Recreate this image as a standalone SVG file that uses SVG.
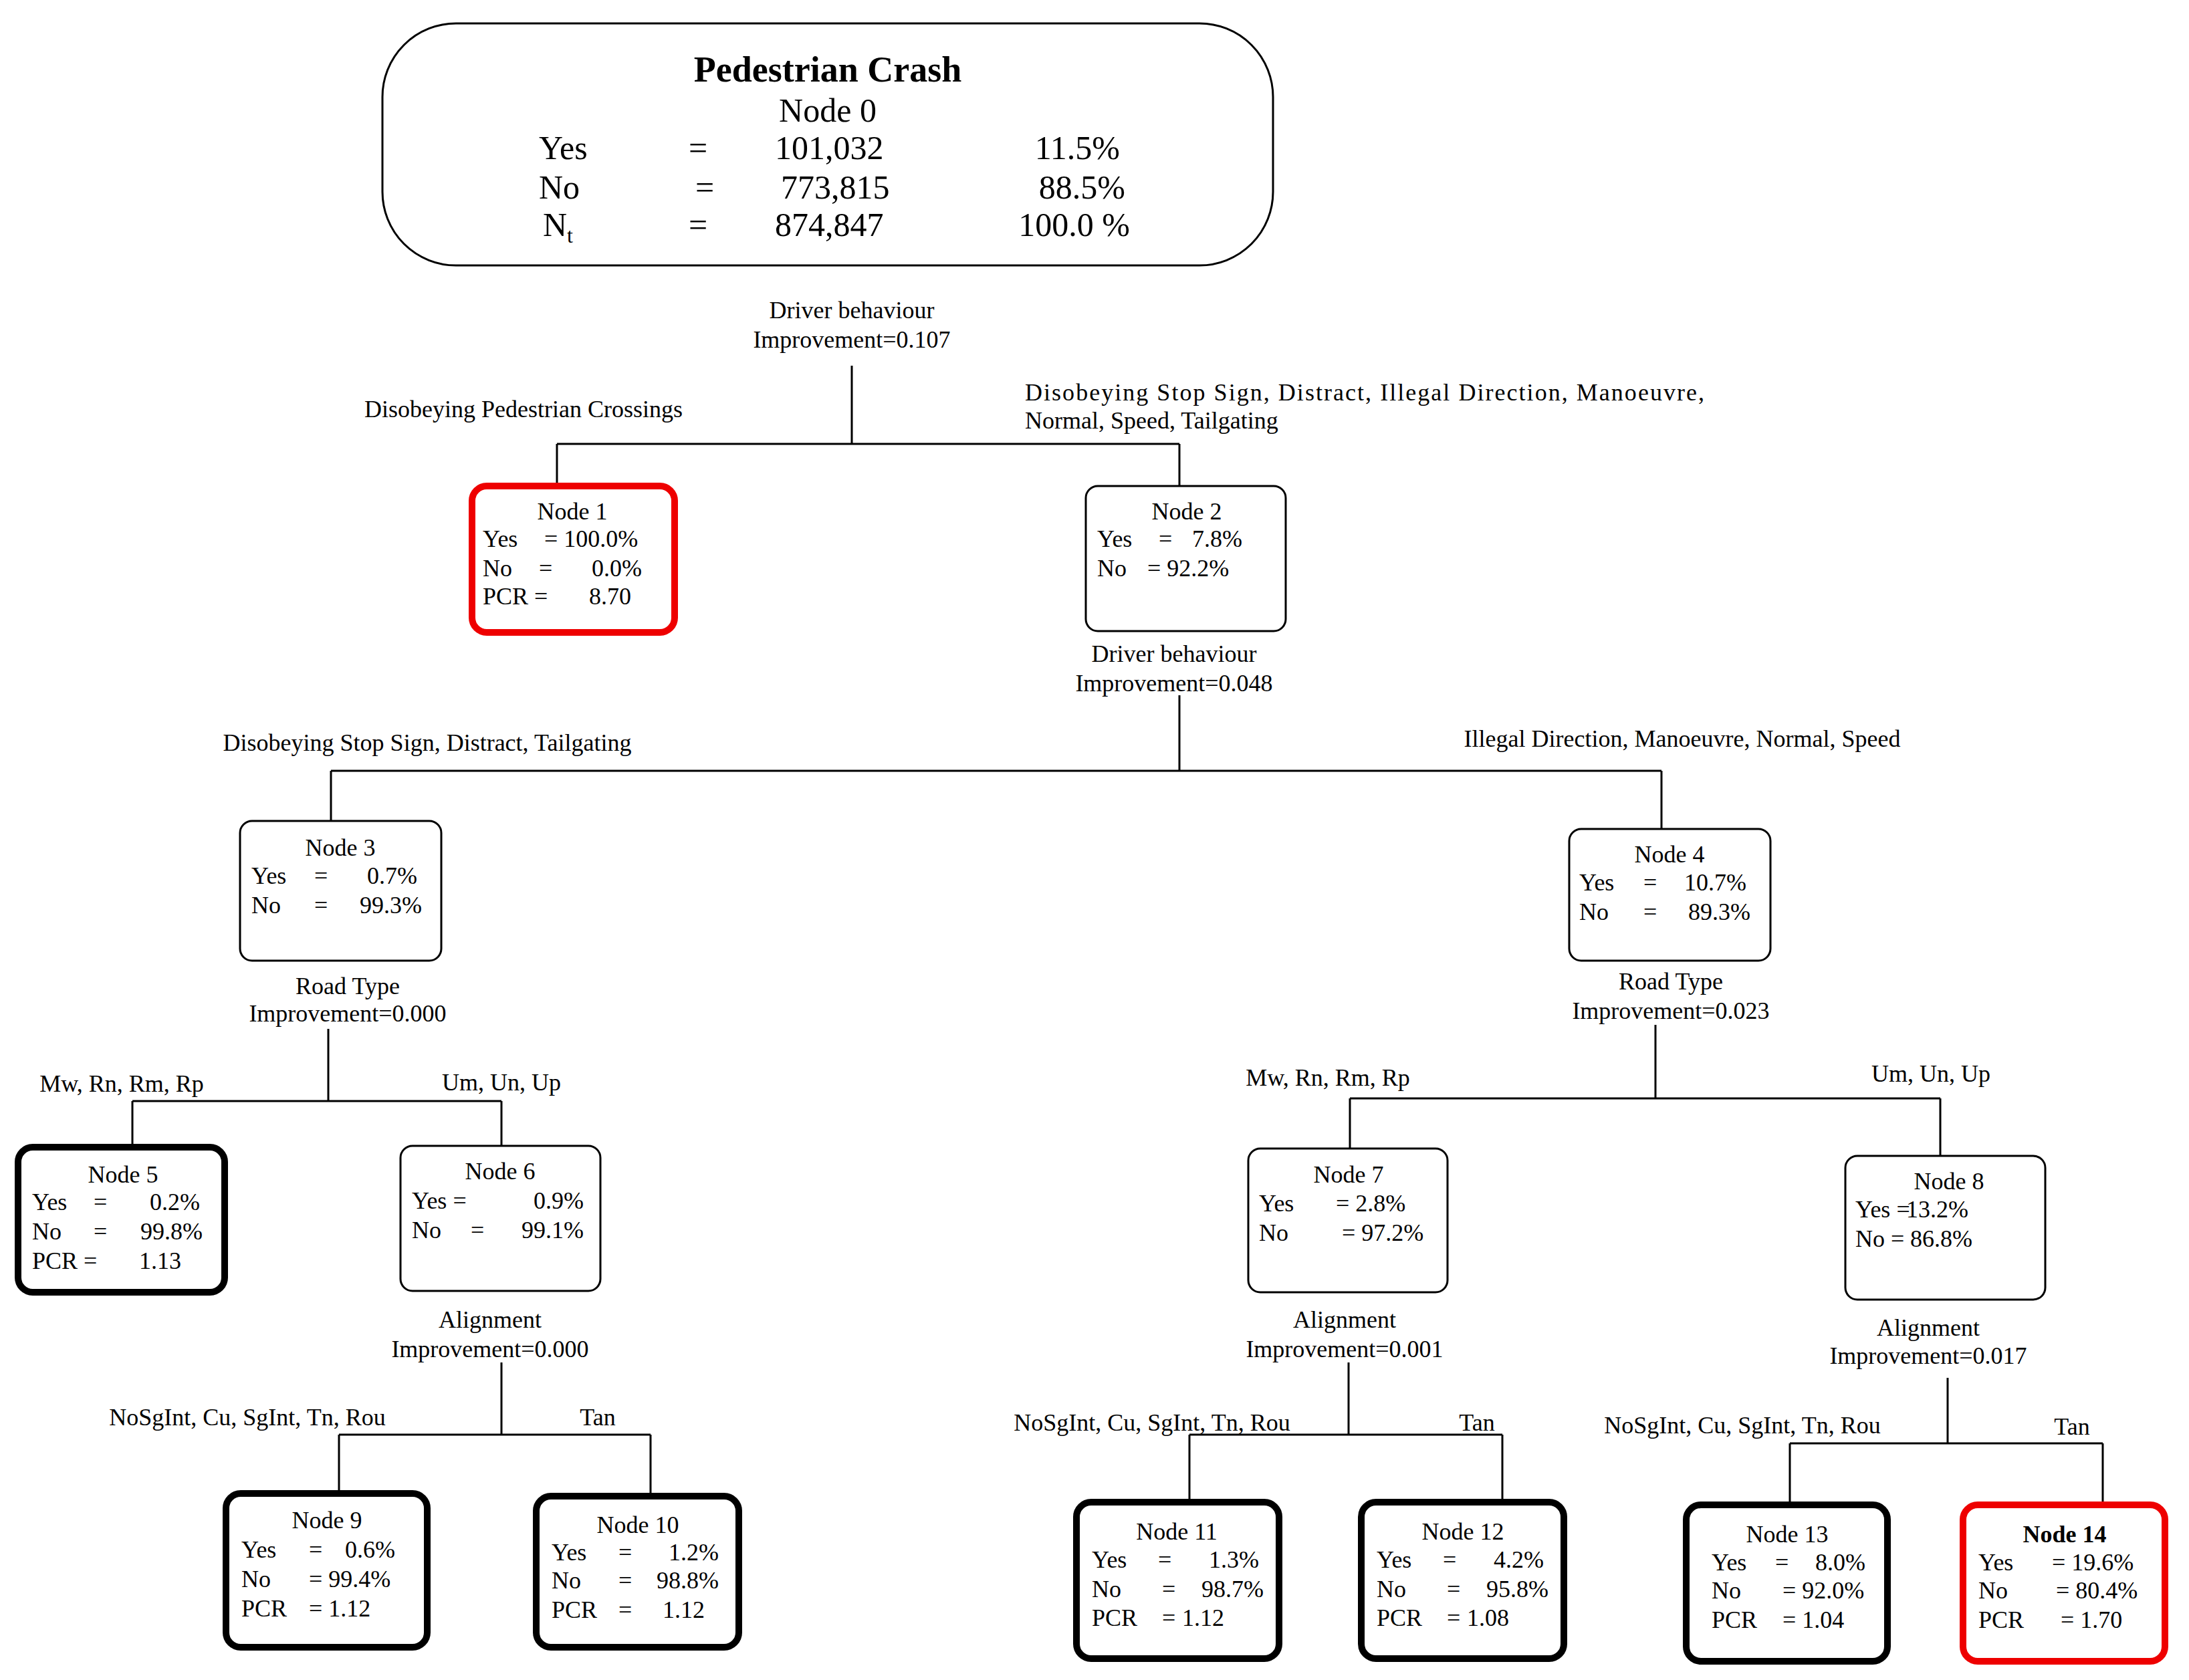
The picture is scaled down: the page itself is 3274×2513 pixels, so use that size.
<svg xmlns="http://www.w3.org/2000/svg" width="3274" height="2513" viewBox="0 0 3274 2513">
<style>
text{font-family:"Liberation Serif","Times New Roman",serif;font-size:36px;fill:#000}
.r{font-size:50px}
.t{font-size:54px;font-weight:bold}
.c{text-anchor:middle}
.e{text-anchor:end}
.b{font-weight:bold}
.n{fill:#fff;stroke:#000;stroke-width:3}
.k{fill:#fff;stroke:#000;stroke-width:10}
.red{fill:#fff;stroke:#e00;stroke-width:10}
.l{stroke:#000;stroke-width:3;fill:none}
</style>
<rect width="3274" height="2513" fill="#fff"/>
<g id="connectors">
<path class="l" d="M1274 547V664M833 664H1764M833 664V727M1764 664V727"/>
<path class="l" d="M1764 1040V1153M495 1153H2485M495 1153V1228M2485 1153V1240"/>
<path class="l" d="M491 1539V1647M198 1647H750M198 1647V1716M750 1647V1714"/>
<path class="l" d="M750 2038V2146M507 2146H973M507 2146V2234M973 2146V2238"/>
<path class="l" d="M2476 1533V1643M2019 1643H2902M2019 1643V1718M2902 1643V1729"/>
<path class="l" d="M2017 2038V2146M1779 2146H2247M1779 2146V2247M2247 2146V2247"/>
<path class="l" d="M2913 2061V2159M2677 2159H3145M2677 2159V2251M3145 2159V2251"/>
</g>
<g id="labels">
<text class="c" x="1274" y="476">Driver behaviour</text>
<text class="c" x="1274" y="520">Improvement=0.107</text>
<text class="c" x="783" y="624">Disobeying Pedestrian Crossings</text>
<text x="1533" y="599" textLength="1016" lengthAdjust="spacing">Disobeying  Stop  Sign,  Distract,  Illegal  Direction,  Manoeuvre,</text>
<text x="1533" y="641">Normal, Speed, Tailgating</text>
<text class="c" x="1756" y="990">Driver behaviour</text>
<text class="c" x="1756" y="1034">Improvement=0.048</text>
<text class="c" x="639" y="1123">Disobeying Stop Sign, Distract, Tailgating</text>
<text class="c" x="2516" y="1117">Illegal Direction, Manoeuvre, Normal, Speed</text>
<text class="c" x="520" y="1487">Road Type</text>
<text class="c" x="520" y="1528">Improvement=0.000</text>
<text class="c" x="182" y="1633">Mw, Rn, Rm, Rp</text>
<text class="c" x="750" y="1631">Um, Un, Up</text>
<text class="c" x="733" y="1986">Alignment</text>
<text class="c" x="733" y="2030">Improvement=0.000</text>
<text class="c" x="370" y="2132">NoSgInt, Cu, SgInt, Tn, Rou</text>
<text class="c" x="894" y="2132">Tan</text>
<text class="c" x="2499" y="1480">Road Type</text>
<text class="c" x="2499" y="1524">Improvement=0.023</text>
<text class="c" x="1986" y="1624">Mw, Rn, Rm, Rp</text>
<text class="c" x="2888" y="1618">Um, Un, Up</text>
<text class="c" x="2011" y="1986">Alignment</text>
<text class="c" x="2011" y="2030">Improvement=0.001</text>
<text class="c" x="1723" y="2140">NoSgInt, Cu, SgInt, Tn, Rou</text>
<text class="c" x="2209" y="2140">Tan</text>
<text class="c" x="2884" y="1998">Alignment</text>
<text class="c" x="2884" y="2040">Improvement=0.017</text>
<text class="c" x="2606" y="2144">NoSgInt, Cu, SgInt, Tn, Rou</text>
<text class="c" x="3099" y="2146">Tan</text>
</g>
<g id="node0">
<rect class="n" x="572" y="35" width="1332" height="362" rx="110"/>
<text class="t c" x="1238" y="122">Pedestrian Crash</text>
<text class="r c" x="1238" y="182">Node 0</text>
<text class="r" x="806" y="238">Yes</text><text class="r" x="1030" y="238">=</text><text class="r" x="1159" y="238">101,032</text><text class="r e" x="1675" y="238">11.5%</text>
<text class="r" x="806" y="297">No</text><text class="r" x="1040" y="297">=</text><text class="r" x="1168" y="297">773,815</text><text class="r e" x="1683" y="297">88.5%</text>
<text class="r" x="812" y="353">N<tspan font-size="32" dy="10">t</tspan></text><text class="r" x="1030" y="353">=</text><text class="r" x="1159" y="353">874,847</text><text class="r e" x="1690" y="353">100.0 %</text>
</g>
<g id="node1">
<rect class="red" x="706" y="727" width="303" height="219" rx="22"/>
<text class="c" x="856" y="777">Node 1</text>
<text x="722" y="818">Yes</text><text x="814" y="818">= 100.0%</text>
<text x="722" y="862">No</text><text x="806" y="862">=</text><text class="e" x="960" y="862">0.0%</text>
<text x="722" y="904">PCR =</text><text class="e" x="944" y="904">8.70</text>
</g>
<g id="node2">
<rect class="n" x="1624" y="727" width="299" height="217" rx="18"/>
<text class="c" x="1775" y="777">Node 2</text>
<text x="1641" y="818">Yes</text><text x="1733" y="818">=</text><text class="e" x="1858" y="818">7.8%</text>
<text x="1641" y="862">No</text><text x="1716" y="862">= 92.2%</text>
</g>
<g id="node3">
<rect class="n" x="359" y="1228" width="301" height="209" rx="18"/>
<text class="c" x="509" y="1280">Node 3</text>
<text x="376" y="1322">Yes</text><text x="470" y="1322">=</text><text class="e" x="624" y="1322">0.7%</text>
<text x="376" y="1366">No</text><text x="470" y="1366">=</text><text class="e" x="631" y="1366">99.3%</text>
</g>
<g id="node4">
<rect class="n" x="2347" y="1240" width="301" height="197" rx="18"/>
<text class="c" x="2497" y="1290">Node 4</text>
<text x="2362" y="1332">Yes</text><text x="2458" y="1332">=</text><text class="e" x="2612" y="1332">10.7%</text>
<text x="2362" y="1376">No</text><text x="2458" y="1376">=</text><text class="e" x="2618" y="1376">89.3%</text>
</g>
<g id="node5">
<rect class="k" x="27" y="1716" width="309" height="217" rx="22"/>
<text class="c" x="184" y="1769">Node 5</text>
<text x="48" y="1810">Yes</text><text x="140" y="1810">=</text><text class="e" x="299" y="1810">0.2%</text>
<text x="48" y="1854">No</text><text x="140" y="1854">=</text><text class="e" x="303" y="1854">99.8%</text>
<text x="48" y="1898">PCR =</text><text class="e" x="271" y="1898">1.13</text>
</g>
<g id="node6">
<rect class="n" x="599" y="1714" width="299" height="217" rx="18"/>
<text class="c" x="748" y="1764">Node 6</text>
<text x="616" y="1808">Yes =</text><text class="e" x="873" y="1808">0.9%</text>
<text x="616" y="1852">No</text><text x="704" y="1852">=</text><text class="e" x="873" y="1852">99.1%</text>
</g>
<g id="node7">
<rect class="n" x="1867" y="1718" width="298" height="215" rx="18"/>
<text class="c" x="2017" y="1769">Node 7</text>
<text x="1883" y="1812">Yes</text><text x="1998" y="1812">= 2.8%</text>
<text x="1883" y="1856">No</text><text x="2007" y="1856">= 97.2%</text>
</g>
<g id="node8">
<rect class="n" x="2760" y="1729" width="299" height="215" rx="18"/>
<text class="c" x="2915" y="1779">Node 8</text>
<text x="2775" y="1821">Yes =</text><text class="e" x="2944" y="1821">13.2%</text>
<text x="2775" y="1865">No =</text><text class="e" x="2950" y="1865">86.8%</text>
</g>
<g id="node9">
<rect class="k" x="338" y="2234" width="301" height="230" rx="22"/>
<text class="c" x="489" y="2286">Node 9</text>
<text x="361" y="2330">Yes</text><text x="462" y="2330">=</text><text class="e" x="591" y="2330">0.6%</text>
<text x="361" y="2374">No</text><text x="462" y="2374">= 99.4%</text>
<text x="361" y="2418">PCR</text><text x="462" y="2418">= 1.12</text>
</g>
<g id="node10">
<rect class="k" x="802" y="2238" width="303" height="226" rx="22"/>
<text class="c" x="954" y="2293">Node 10</text>
<text x="825" y="2334">Yes</text><text x="925" y="2334">=</text><text class="e" x="1075" y="2334">1.2%</text>
<text x="825" y="2376">No</text><text x="925" y="2376">=</text><text class="e" x="1075" y="2376">98.8%</text>
<text x="825" y="2420">PCR</text><text x="925" y="2420">=</text><text class="e" x="1054" y="2420">1.12</text>
</g>
<g id="node11">
<rect class="k" x="1610" y="2247" width="303" height="234" rx="22"/>
<text class="c" x="1760" y="2303">Node 11</text>
<text x="1633" y="2345">Yes</text><text x="1732" y="2345">=</text><text class="e" x="1883" y="2345">1.3%</text>
<text x="1633" y="2389">No</text><text x="1738" y="2389">=</text><text class="e" x="1890" y="2389">98.7%</text>
<text x="1633" y="2432">PCR</text><text x="1738" y="2432">=</text><text class="e" x="1831" y="2432">1.12</text>
</g>
<g id="node12">
<rect class="k" x="2036" y="2247" width="303" height="234" rx="22"/>
<text class="c" x="2188" y="2303">Node 12</text>
<text x="2059" y="2345">Yes</text><text x="2158" y="2345">=</text><text class="e" x="2309" y="2345">4.2%</text>
<text x="2059" y="2389">No</text><text x="2164" y="2389">=</text><text class="e" x="2316" y="2389">95.8%</text>
<text x="2059" y="2432">PCR</text><text x="2164" y="2432">=</text><text class="e" x="2257" y="2432">1.08</text>
</g>
<g id="node13">
<rect class="k" x="2522" y="2251" width="301" height="234" rx="22"/>
<text class="c" x="2673" y="2307">Node 13</text>
<text x="2560" y="2349">Yes</text><text x="2655" y="2349">=</text><text class="e" x="2790" y="2349">8.0%</text>
<text x="2560" y="2391">No</text><text x="2666" y="2391">= 92.0%</text>
<text x="2560" y="2435">PCR</text><text x="2666" y="2435">= 1.04</text>
</g>
<g id="node14">
<rect class="red" x="2936" y="2251" width="302" height="234" rx="22"/>
<text class="c b" x="3088" y="2307">Node 14</text>
<text x="2959" y="2349">Yes</text><text x="3069" y="2349">= 19.6%</text>
<text x="2959" y="2391">No</text><text x="3075" y="2391">= 80.4%</text>
<text x="2959" y="2435">PCR</text><text x="3082" y="2435">= 1.70</text>
</g>
</svg>
